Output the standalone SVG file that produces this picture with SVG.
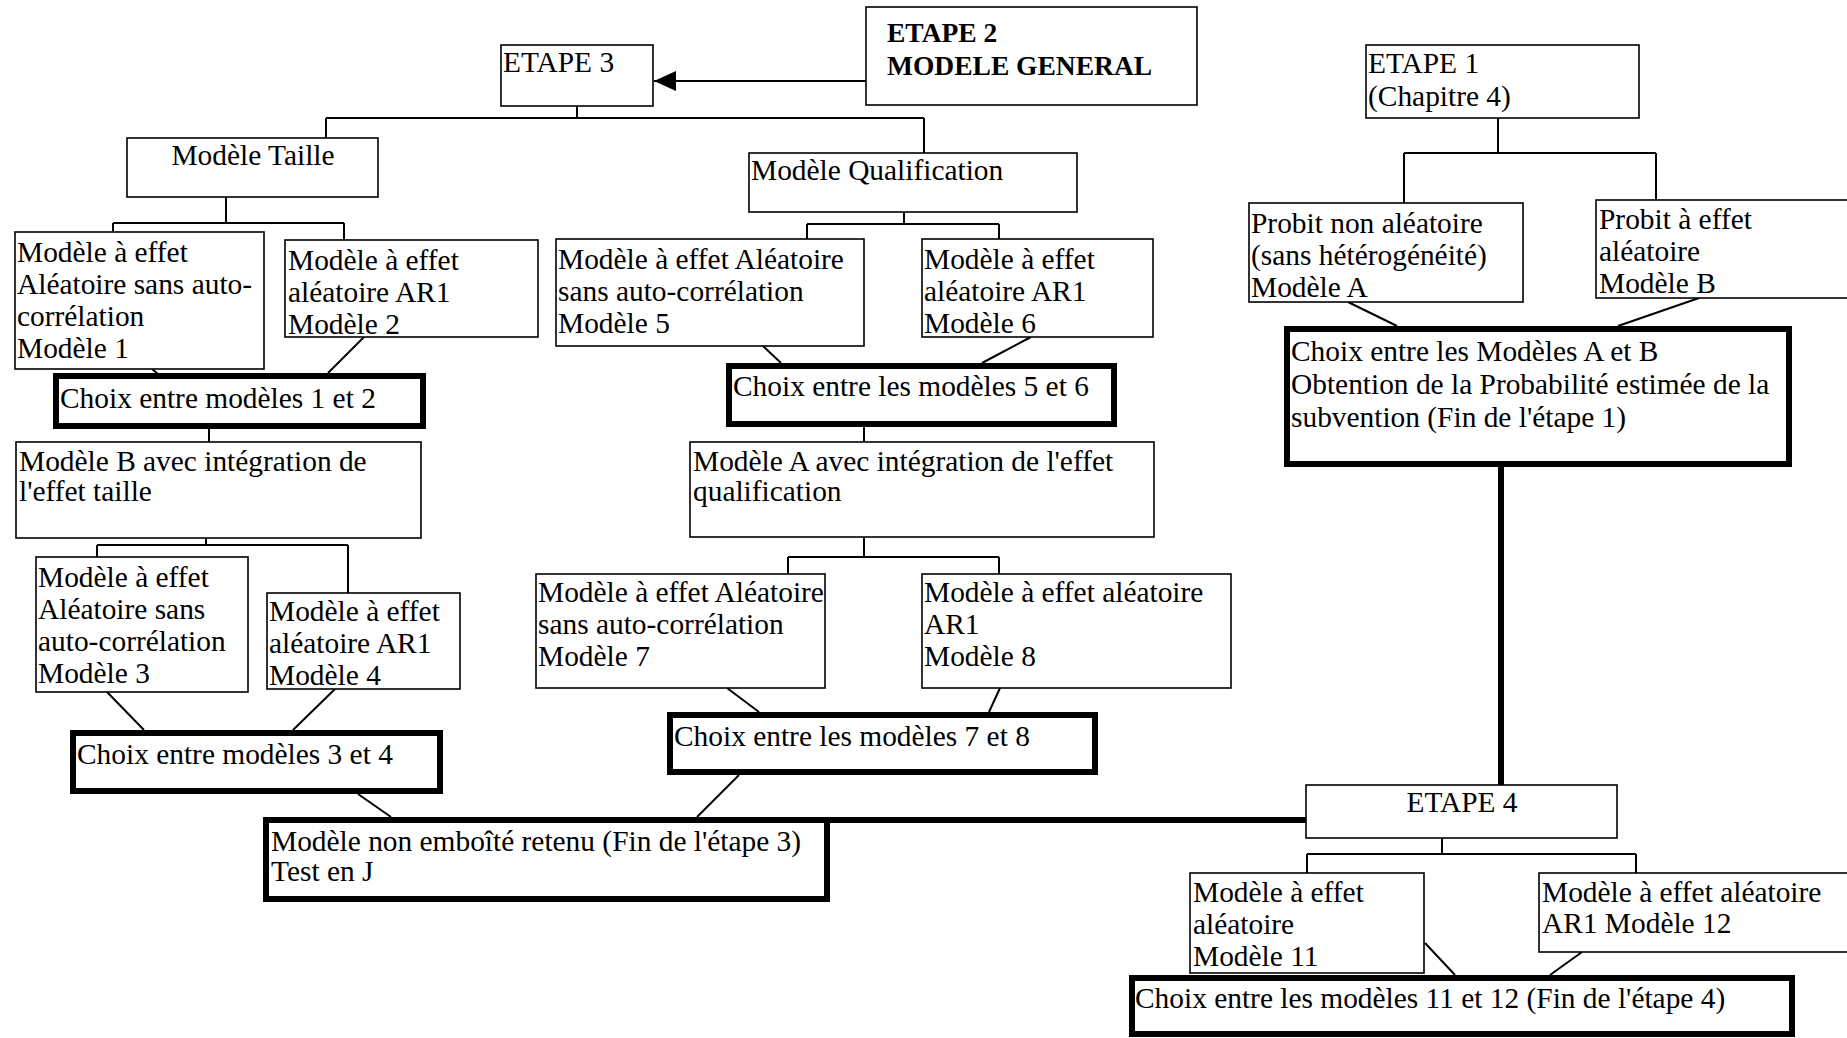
<svg xmlns="http://www.w3.org/2000/svg" width="1847" height="1038" viewBox="0 0 1847 1038">
<defs>
<style>
.bx{fill:#fff;stroke:#000;stroke-width:1.6}
.tk{fill:#fff;stroke:#000;stroke-width:6}
.t{font-family:"Liberation Serif","Times New Roman",serif;font-size:29.4px;fill:#000}
.b{font-weight:bold;font-size:27.5px}
.c{stroke:#000;stroke-width:2;fill:none}
.ck{stroke:#000;stroke-width:6;fill:none}
</style>
<marker id="ah" markerWidth="22" markerHeight="20" refX="22" refY="10" orient="auto" markerUnits="userSpaceOnUse">
<path d="M0,0 L22,10 L0,20 Z" fill="#000"/>
</marker>
</defs>
<rect width="1847" height="1038" fill="#fff"/>
<g id="connectors">
<line class="c" x1="866" y1="81" x2="654" y2="81" marker-end="url(#ah)"/>
<path class="c" d="M577,106 V118 M326,118 H924 M326,118 V138 M924,118 V153"/>
<path class="c" d="M226,197 V223 M113,223 H344 M113,223 V232 M344,223 V240"/>
<path class="c" d="M904,207 V224 M807,224 H999 M807,224 V239 M999,224 V239"/>
<path class="c" d="M1498,118 V153 M1404,153 H1656 M1404,153 V203 M1656,153 V200"/>
<path class="c" d="M152,369 L158,374 M364,337 L328,373"/>
<path class="c" d="M763,346 L781,363 M1031,337 L982,363"/>
<path class="c" d="M1348,302 L1397,326 M1699,298 L1618,326"/>
<path class="c" d="M209,429 V442 M864,427 V442"/>
<path class="c" d="M206,538 V545 M97,545 H348 M97,545 V557 M348,545 V593"/>
<path class="c" d="M864,537 V557 M788,557 H999 M788,557 V574 M999,557 V574"/>
<path class="c" d="M107,692 L144,730 M335,689 L293,730"/>
<path class="c" d="M727,688 L759,712 M1000,688 L989,712"/>
<path class="c" d="M358,794 L391,817 M739,775 L697,817"/>
<path class="ck" d="M827,820 H1306 M1501,467 V785"/>
<path class="c" d="M1442,838 V854 M1307,854 H1636 M1307,854 V873 M1636,854 V873"/>
<path class="c" d="M1425,943 L1455,975 M1582,952 L1550,975"/>
</g>
<g id="etape2"><rect class="bx" x="866" y="7" width="331" height="98"/>
<text class="t b" x="887" y="42">ETAPE 2</text><text class="t b" x="887" y="75">MODELE GENERAL</text></g>
<g id="etape3"><rect class="bx" x="501" y="45" width="152" height="61"/>
<text class="t" x="503" y="72">ETAPE 3</text></g>
<g id="etape1"><rect class="bx" x="1366" y="45" width="273" height="73"/>
<text class="t" x="1368" y="73">ETAPE 1</text><text class="t" x="1368" y="106">(Chapitre 4)</text></g>
<g id="taille"><rect class="bx" x="127" y="138" width="251" height="59"/>
<text class="t" x="253" y="165" text-anchor="middle">Modèle Taille</text></g>
<g id="qualif"><rect class="bx" x="749" y="153" width="328" height="59"/>
<text class="t" x="751" y="180">Modèle Qualification</text></g>
<g id="m1"><rect class="bx" x="15" y="232" width="249" height="137"/>
<text class="t" x="17" y="262">Modèle à effet</text><text class="t" x="17" y="294">Aléatoire sans auto-</text><text class="t" x="17" y="326">corrélation</text><text class="t" x="17" y="358">Modèle 1</text></g>
<g id="m2"><rect class="bx" x="285" y="240" width="253" height="97"/>
<text class="t" x="288" y="270">Modèle à effet</text><text class="t" x="288" y="302">aléatoire AR1</text><text class="t" x="288" y="334">Modèle 2</text></g>
<g id="m5"><rect class="bx" x="556" y="239" width="308" height="107"/>
<text class="t" x="558" y="269">Modèle à effet Aléatoire</text><text class="t" x="558" y="301">sans auto-corrélation</text><text class="t" x="558" y="333">Modèle 5</text></g>
<g id="m6"><rect class="bx" x="922" y="239" width="231" height="98"/>
<text class="t" x="924" y="269">Modèle à effet</text><text class="t" x="924" y="301">aléatoire AR1</text><text class="t" x="924" y="333">Modèle 6</text></g>
<g id="probitA"><rect class="bx" x="1249" y="203" width="274" height="99"/>
<text class="t" x="1251" y="233">Probit non aléatoire</text><text class="t" x="1251" y="265">(sans hétérogénéité)</text><text class="t" x="1251" y="297">Modèle A</text></g>
<g id="probitB"><rect class="bx" x="1596" y="200" width="300" height="98"/>
<text class="t" x="1599" y="229">Probit à effet</text><text class="t" x="1599" y="261">aléatoire</text><text class="t" x="1599" y="293">Modèle B</text></g>
<g id="choix12"><rect class="tk" x="56" y="376" width="367" height="50"/>
<text class="t" x="60" y="408">Choix entre modèles 1 et 2</text></g>
<g id="choix56"><rect class="tk" x="729" y="366" width="385" height="58"/>
<text class="t" x="733" y="396">Choix entre les modèles 5 et 6</text></g>
<g id="choixAB"><rect class="tk" x="1287" y="329" width="502" height="135"/>
<text class="t" x="1291" y="361">Choix entre les Modèles A et B</text><text class="t" x="1291" y="394">Obtention de la Probabilité estimée de la</text><text class="t" x="1291" y="427">subvention (Fin de l'étape 1)</text></g>
<g id="modeleB"><rect class="bx" x="16" y="442" width="405" height="96"/>
<text class="t" x="19" y="471">Modèle B avec intégration de</text><text class="t" x="19" y="501">l'effet taille</text></g>
<g id="modeleA"><rect class="bx" x="690" y="442" width="464" height="95"/>
<text class="t" x="693" y="471">Modèle A avec intégration de l'effet</text><text class="t" x="693" y="501">qualification</text></g>
<g id="m3"><rect class="bx" x="36" y="557" width="212" height="135"/>
<text class="t" x="38" y="587">Modèle à effet</text><text class="t" x="38" y="619">Aléatoire sans</text><text class="t" x="38" y="651">auto-corrélation</text><text class="t" x="38" y="683">Modèle 3</text></g>
<g id="m4"><rect class="bx" x="267" y="593" width="193" height="96"/>
<text class="t" x="269" y="621">Modèle à effet</text><text class="t" x="269" y="653">aléatoire AR1</text><text class="t" x="269" y="685">Modèle 4</text></g>
<g id="m7"><rect class="bx" x="536" y="574" width="289" height="114"/>
<text class="t" x="538" y="602">Modèle à effet Aléatoire</text><text class="t" x="538" y="634">sans auto-corrélation</text><text class="t" x="538" y="666">Modèle 7</text></g>
<g id="m8"><rect class="bx" x="922" y="574" width="309" height="114"/>
<text class="t" x="924" y="602">Modèle à effet aléatoire</text><text class="t" x="924" y="634">AR1</text><text class="t" x="924" y="666">Modèle 8</text></g>
<g id="choix34"><rect class="tk" x="73" y="733" width="367" height="58"/>
<text class="t" x="77" y="764">Choix entre modèles 3 et 4</text></g>
<g id="choix78"><rect class="tk" x="670" y="715" width="425" height="57"/>
<text class="t" x="674" y="746">Choix entre les modèles 7 et 8</text></g>
<g id="nonemboite"><rect class="tk" x="266" y="820" width="561" height="79"/>
<text class="t" x="271" y="851">Modèle non emboîté retenu (Fin de l'étape 3)</text><text class="t" x="271" y="881">Test en J</text></g>
<g id="etape4"><rect class="bx" x="1306" y="785" width="311" height="53"/>
<text class="t" x="1462" y="812" text-anchor="middle">ETAPE 4</text></g>
<g id="m11"><rect class="bx" x="1190" y="873" width="234" height="100"/>
<text class="t" x="1193" y="902">Modèle à effet</text><text class="t" x="1193" y="934">aléatoire</text><text class="t" x="1193" y="966">Modèle 11</text></g>
<g id="m12"><rect class="bx" x="1539" y="873" width="320" height="79"/>
<text class="t" x="1542" y="902">Modèle à effet aléatoire</text><text class="t" x="1542" y="933">AR1 Modèle 12</text></g>
<g id="choix1112"><rect class="tk" x="1132" y="978" width="660" height="56"/>
<text class="t" x="1135" y="1008">Choix entre les modèles 11 et 12 (Fin de l'étape 4)</text></g>
</svg>
